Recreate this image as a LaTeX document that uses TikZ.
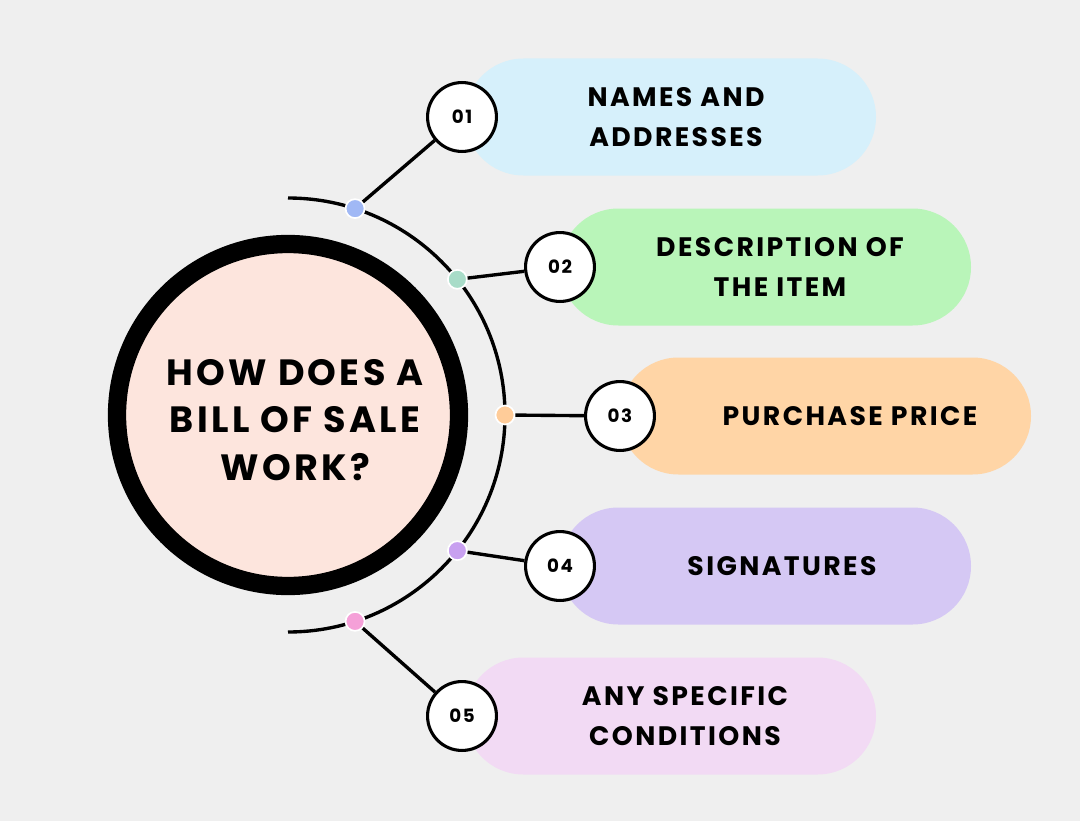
\documentclass[tikz,border=0pt]{standalone}
\usepackage{fontspec}
\setmainfont{Poppins}[LetterSpace=9]
\definecolor{bgGray}{HTML}{EFEFEF}
\definecolor{hubFill}{HTML}{FDE5DD}
\definecolor{pillA}{HTML}{D6F0FB}
\definecolor{pillB}{HTML}{B9F5B9}
\definecolor{pillC}{HTML}{FFD5A6}
\definecolor{pillD}{HTML}{D5C8F4}
\definecolor{pillE}{HTML}{F2DAF4}
\definecolor{dotA}{HTML}{A0B8F5}
\definecolor{dotB}{HTML}{A8DCC8}
\definecolor{dotC}{HTML}{FFCC99}
\definecolor{dotD}{HTML}{C8A0F0}
\definecolor{dotE}{HTML}{F5A0D8}
\newcommand{\stepItem}[9]{%%
  %% #1 name, #2 dot angle, #3 dot colour, #4 x, #5 y, #6 pill left, #7 pill colour, #8 text x, #9 text
  \fill[#7,rounded corners=1.46cm] (#6,#5-58.5) rectangle ++(411,117);
  \node[dotStyle,fill=#3] (dot#1) at ([shift={(288,415)}]#2:217) {};
  \node[numStyle] (num#1) at (#4,#5) {0#1};
  \draw[linkStyle] (dot#1) -- (num#1);
  \node[textStyle] (txt#1) at (#8,#5) {#9};
}

\begin{document}
\begin{tikzpicture}[x=0.025cm,y=-0.025cm,%%
  dotStyle/.style={circle,inner sep=0pt,minimum size=13.5pt,draw=white,line width=1.2pt},%%
  numStyle/.style={circle,draw=black,line width=2.2pt,fill=white,minimum size=49pt,inner sep=0pt,font=\bfseries\fontsize{13}{16}\selectfont},%%
  linkStyle/.style={line width=2.4pt},%%
  textStyle/.style={align=center,font=\bfseries\fontsize{19}{28}\selectfont}%%
]
\fill[bgGray] (0,0) rectangle (1080,821);
\useasboundingbox (0,0) rectangle (1080,821);
%%
\begin{scope}[shift={(288,415)}]
  \draw[line width=2.4pt] (-90:217) arc[start angle=-90,end angle=90,radius=217];
  \draw[line width=13pt,fill=hubFill] (0,0) circle[radius=171];
  \node[textStyle,font=\bfseries\fontsize{26}{34}\selectfont] (hub) at (7,5) {HOW DOES A\\BILL OF SALE\\WORK?};
\end{scope}
%%
\stepItem{1}{-72}{dotA}{462}{117}{465}{pillA}{676}{NAMES AND\\ADDRESSES}
\stepItem{2}{-38.7}{dotB}{560}{267}{560}{pillB}{780}{DESCRIPTION OF\\THE ITEM}
\stepItem{3}{0}{dotC}{620}{416}{620}{pillC}{850}{PURCHASE PRICE}
\stepItem{4}{38.7}{dotD}{560}{566}{560}{pillD}{782}{SIGNATURES}
\stepItem{5}{72}{dotE}{462}{716}{465}{pillE}{685}{ANY SPECIFIC\\CONDITIONS}
\end{tikzpicture}
\end{document}
